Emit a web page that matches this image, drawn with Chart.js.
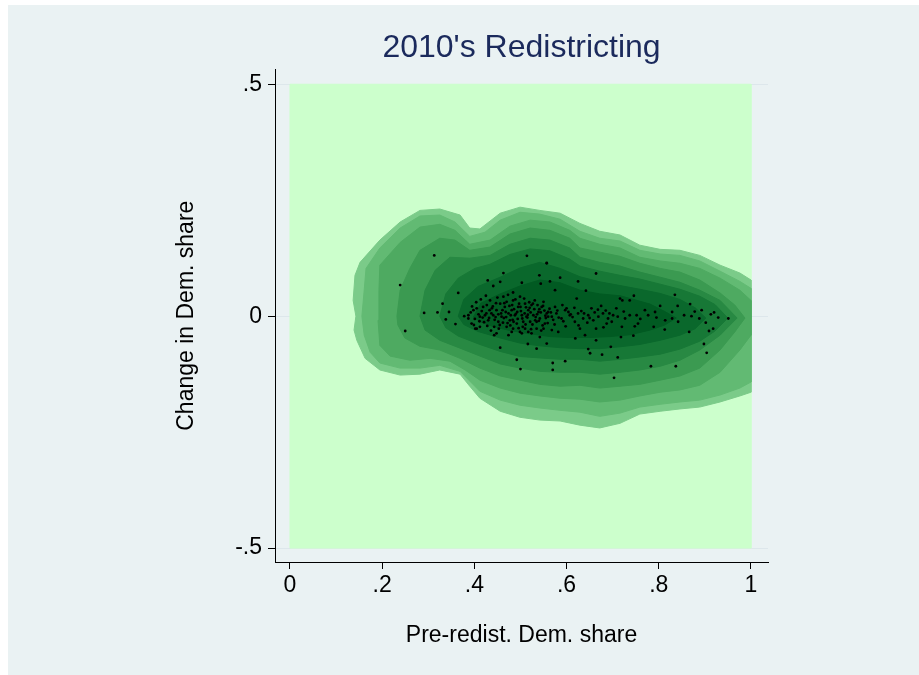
<!DOCTYPE html>
<html><head><meta charset="utf-8">
<script src="https://cdn.jsdelivr.net/npm/chart.js@4.4.1/dist/chart.umd.min.js"></script>
<style>
html,body{margin:0;padding:0;background:#ffffff;}
#wrap{position:absolute;left:8px;top:5px;width:911px;height:670px;background:#eaf2f3;}
canvas{display:block;}
</style></head><body>
<div id="wrap"><canvas id="c" width="911" height="670"></canvas></div>
<script>
// ---------- data ----------
const titleText = "2010's Redistricting";
const xTitle = "Pre-redist. Dem. share";
const yTitle = "Change in Dem. share";
const xTickValues = [0, 0.2, 0.4, 0.6, 0.8, 1];
const xTickLabels = ["0", ".2", ".4", ".6", ".8", "1"];
const yTickValues = [-0.5, 0, 0.5];
const yTickLabels = ["-.5", "0", ".5"];
const xRange = [-0.0325, 1.037];
const yRange = [-0.530, 0.532];

// density grid extent (lowest level)
const gridRegion = [[0,-0.5],[0,0.5],[1,0.5],[1,-0.5]];

// density contour levels (outer -> inner)
const level1 = [[0.143,0],[0.137,0.034],[0.141,0.088],[0.152,0.116],[0.195,0.164],[0.239,0.203],[0.282,0.228],[0.325,0.231],[0.369,0.218],[0.390,0.190],[0.412,0.188],[0.456,0.222],[0.499,0.235],[0.542,0.228],[0.586,0.222],[0.629,0.200],[0.672,0.183],[0.716,0.175],[0.759,0.153],[0.803,0.144],[0.846,0.142],[0.889,0.131],[0.933,0.110],[0.976,0.093],[1.0,0.078],[1.0,-0.164],[0.976,-0.172],[0.933,-0.185],[0.889,-0.196],[0.846,-0.200],[0.803,-0.205],[0.759,-0.211],[0.716,-0.231],[0.672,-0.241],[0.629,-0.235],[0.586,-0.226],[0.542,-0.224],[0.499,-0.218],[0.456,-0.205],[0.412,-0.177],[0.390,-0.151],[0.369,-0.125],[0.325,-0.116],[0.282,-0.125],[0.239,-0.127],[0.195,-0.116],[0.163,-0.091],[0.145,-0.052],[0.139,-0.030]];
const level2 = [[0.156,0],[0.161,0.056],[0.165,0.103],[0.195,0.147],[0.239,0.190],[0.282,0.216],[0.325,0.218],[0.358,0.203],[0.390,0.172],[0.423,0.181],[0.456,0.207],[0.499,0.224],[0.542,0.220],[0.586,0.209],[0.629,0.183],[0.672,0.168],[0.716,0.162],[0.759,0.142],[0.803,0.134],[0.846,0.131],[0.889,0.119],[0.933,0.097],[0.976,0.075],[1.0,0.060],[1.0,-0.142],[0.976,-0.155],[0.933,-0.170],[0.889,-0.181],[0.846,-0.185],[0.803,-0.190],[0.759,-0.196],[0.716,-0.209],[0.672,-0.216],[0.629,-0.207],[0.586,-0.203],[0.542,-0.198],[0.499,-0.192],[0.456,-0.181],[0.412,-0.162],[0.390,-0.140],[0.369,-0.119],[0.325,-0.106],[0.282,-0.112],[0.239,-0.112],[0.195,-0.101],[0.174,-0.078],[0.161,-0.041]];
const level3 = [[0.191,-0.009],[0.193,0.056],[0.195,0.110],[0.239,0.159],[0.282,0.192],[0.325,0.198],[0.358,0.185],[0.390,0.155],[0.434,0.164],[0.477,0.194],[0.521,0.207],[0.564,0.203],[0.607,0.185],[0.629,0.168],[0.672,0.155],[0.716,0.147],[0.759,0.127],[0.803,0.119],[0.846,0.114],[0.889,0.103],[0.933,0.082],[0.976,0.056],[1.0,0.034],[1.0,-0.041],[0.976,-0.073],[0.933,-0.121],[0.889,-0.149],[0.846,-0.159],[0.803,-0.164],[0.759,-0.172],[0.716,-0.181],[0.672,-0.185],[0.629,-0.179],[0.586,-0.177],[0.542,-0.172],[0.499,-0.166],[0.456,-0.155],[0.412,-0.138],[0.380,-0.116],[0.347,-0.097],[0.304,-0.091],[0.260,-0.095],[0.217,-0.086],[0.195,-0.063]];
const level4 = [[0.232,0],[0.239,0.056],[0.260,0.103],[0.282,0.142],[0.325,0.168],[0.358,0.164],[0.390,0.142],[0.434,0.149],[0.477,0.177],[0.521,0.190],[0.564,0.185],[0.607,0.168],[0.629,0.147],[0.672,0.138],[0.716,0.129],[0.759,0.114],[0.803,0.103],[0.846,0.095],[0.889,0.078],[0.933,0.050],[0.965,0.024],[0.987,-0.004],[0.965,-0.034],[0.933,-0.073],[0.889,-0.112],[0.846,-0.129],[0.803,-0.138],[0.759,-0.147],[0.716,-0.151],[0.672,-0.155],[0.629,-0.149],[0.586,-0.151],[0.542,-0.147],[0.499,-0.138],[0.456,-0.129],[0.412,-0.112],[0.369,-0.091],[0.325,-0.073],[0.282,-0.065],[0.249,-0.047],[0.234,-0.019]];
const level5 = [[0.282,0],[0.293,0.056],[0.315,0.099],[0.347,0.127],[0.390,0.125],[0.434,0.131],[0.477,0.155],[0.521,0.168],[0.564,0.164],[0.607,0.147],[0.629,0.127],[0.672,0.116],[0.716,0.108],[0.759,0.095],[0.803,0.084],[0.846,0.073],[0.889,0.056],[0.933,0.034],[0.970,-0.004],[0.933,-0.041],[0.889,-0.073],[0.846,-0.095],[0.803,-0.108],[0.759,-0.116],[0.716,-0.121],[0.672,-0.125],[0.629,-0.121],[0.586,-0.121],[0.542,-0.119],[0.499,-0.112],[0.456,-0.103],[0.412,-0.086],[0.369,-0.069],[0.325,-0.052],[0.293,-0.030]];
const level6 = [[0.325,0],[0.338,0.048],[0.365,0.082],[0.401,0.103],[0.434,0.112],[0.477,0.133],[0.521,0.145],[0.564,0.141],[0.607,0.123],[0.629,0.108],[0.672,0.097],[0.716,0.088],[0.759,0.080],[0.803,0.069],[0.846,0.058],[0.889,0.043],[0.922,0.025],[0.950,-0.004],[0.922,-0.032],[0.889,-0.054],[0.846,-0.071],[0.803,-0.082],[0.759,-0.088],[0.716,-0.093],[0.672,-0.097],[0.629,-0.093],[0.586,-0.093],[0.542,-0.090],[0.499,-0.087],[0.456,-0.076],[0.412,-0.061],[0.365,-0.043],[0.338,-0.025]];
const level7 = [[0.365,0],[0.377,0.036],[0.408,0.064],[0.456,0.084],[0.499,0.104],[0.542,0.116],[0.586,0.103],[0.629,0.085],[0.672,0.074],[0.716,0.066],[0.759,0.058],[0.803,0.049],[0.846,0.036],[0.879,0.018],[0.902,-0.004],[0.879,-0.027],[0.846,-0.041],[0.803,-0.052],[0.759,-0.061],[0.716,-0.066],[0.672,-0.070],[0.629,-0.070],[0.586,-0.068],[0.542,-0.064],[0.499,-0.058],[0.456,-0.047],[0.408,-0.033],[0.377,-0.018]];
const level8 = [[0.398,-0.002],[0.414,0.028],[0.456,0.048],[0.499,0.065],[0.542,0.078],[0.586,0.072],[0.629,0.056],[0.672,0.048],[0.716,0.044],[0.742,0.037],[0.781,0.026],[0.813,0.010],[0.838,-0.004],[0.813,-0.019],[0.781,-0.030],[0.738,-0.040],[0.694,-0.044],[0.651,-0.046],[0.607,-0.046],[0.564,-0.044],[0.521,-0.038],[0.477,-0.031],[0.440,-0.022],[0.414,-0.013]];
const levelColors = ['#ccffcc','#7bcb89','#62ba73','#4eaa61','#3b9a51','#288943','#177836','#0a682c','#015a22'];

// observed districts (x = pre-redistricting Dem. share, y = change)
const districts = [
[0.313,0.131],[0.239,0.067],[0.291,0.007],[0.250,-0.032],[0.320,0.008],[0.365,0.050],[0.331,0.027],[0.345,0.009],[0.338,-0.007],[0.359,-0.017],
[0.514,0.130],[0.557,0.114],[0.463,0.093],[0.429,0.077],[0.456,0.074],[0.503,0.072],[0.541,0.088],[0.544,0.070],[0.441,0.065],[0.484,0.051],
[0.456,-0.068],[0.492,-0.094],[0.500,-0.114],[0.516,-0.060],[0.535,-0.070],[0.443,-0.041],[0.402,-0.027],
[0.387,0.002],[0.398,0.013],[0.405,0.017],[0.387,-0.005],[0.412,-0.001],[0.423,0.002],[0.427,0.024],[0.434,0.034],[0.437,0.006],[0.441,0.002],
[0.448,0.013],[0.456,0.027],[0.459,-0.001],[0.463,0.042],[0.466,0.020],[0.470,0.031],[0.474,0.006],[0.477,-0.009],[0.481,0.013],[0.484,0.034],
[0.488,0.002],[0.492,-0.016],[0.495,0.020],[0.499,0.042],[0.503,0.002],[0.505,-0.023],[0.510,0.027],[0.513,-0.001],[0.517,0.013],[0.521,-0.012],
[0.524,0.024],[0.528,0.002],[0.531,0.034],[0.535,-0.027],[0.539,0.009],[0.542,-0.005],[0.546,0.020],[0.550,0.031],[0.553,-0.016],[0.557,0.006],
[0.560,-0.001],[0.405,-0.027],[0.412,-0.023],[0.443,-0.023],[0.448,-0.037],[0.474,-0.041],[0.481,-0.034],[0.499,-0.034],[0.503,-0.037],[0.517,-0.034],
[0.524,-0.037],[0.542,-0.045],[0.557,-0.059],[0.419,0.020],[0.430,-0.009],[0.452,-0.012],[0.470,-0.023],[0.484,-0.027],[0.510,-0.027],[0.535,-0.012],
[0.550,-0.027],[0.378,0.000],[0.394,-0.016],
[0.664,0.092],[0.625,0.075],[0.642,0.055],[0.557,0.115],[0.564,0.075],[0.586,0.083],[0.746,0.044],[0.721,0.034],[0.835,0.046],[0.868,0.026],
[0.841,0.022],[0.893,0.013],[0.913,0.004],[0.929,-0.003],[0.951,-0.005],[0.909,-0.032],[0.918,-0.027],[0.866,-0.034],[0.898,-0.060],[0.904,-0.079],
[0.837,-0.108],[0.783,-0.108],[0.703,-0.133],[0.711,-0.089],[0.677,-0.083],[0.651,-0.080],[0.647,-0.071],[0.696,-0.066],[0.597,-0.097],[0.570,-0.101],
[0.570,-0.116],[0.664,-0.052],[0.640,-0.041],[0.619,-0.048],[0.745,-0.042],[0.718,-0.045],[0.789,-0.023],[0.813,-0.029],[0.855,0.002],[0.871,0.000],
[0.888,-0.005],[0.803,0.022],[0.792,0.009],[0.770,0.013],[0.777,0.002],[0.752,0.002],[0.737,0.002],[0.727,-0.005],[0.711,-0.001],[0.701,0.002],
[0.690,-0.005],[0.679,0.006],[0.669,-0.001],[0.658,-0.009],[0.647,0.002],[0.636,-0.005],[0.625,0.006],[0.618,-0.012],[0.607,0.002],[0.597,0.013],
[0.589,-0.005],[0.578,0.006],[0.568,-0.001],[0.560,0.009],[0.575,0.020],[0.600,0.017],[0.654,0.017],[0.675,0.022],[0.708,0.017],[0.687,-0.016],
[0.720,-0.023],[0.755,-0.016],[0.814,-0.009],[0.829,-0.005],[0.568,-0.030],[0.582,-0.034],[0.629,-0.027],[0.664,-0.027],[0.680,-0.024],[0.748,-0.022],
[0.622,0.038],[0.575,0.056],[0.716,0.038],[0.737,0.034],[0.829,0.009],
[0.392,0.008],[0.401,-0.006],[0.409,0.004],[0.416,0.011],[0.421,-0.013],[0.426,0.006],[0.432,-0.004],[0.438,0.017],[0.444,-0.008],[0.447,0.028],
[0.452,0.004],[0.455,-0.019],[0.461,0.013],[0.464,-0.004],[0.468,0.009],[0.472,-0.015],[0.476,0.022],[0.479,0.002],[0.483,-0.008],[0.486,0.015],
[0.490,0.005],[0.494,-0.006],[0.497,0.027],[0.501,0.011],[0.506,-0.012],[0.509,0.006],[0.512,0.019],[0.515,-0.003],[0.519,0.030],[0.522,0.008],
[0.526,-0.018],[0.530,0.015],[0.533,-0.002],[0.537,0.024],[0.540,-0.010],[0.544,0.008],[0.548,-0.020],[0.552,0.012],[0.555,-0.004],[0.563,0.016],
[0.571,-0.008],[0.580,0.012],[0.593,-0.011],[0.604,0.009],[0.613,-0.002],[0.632,0.011],[0.645,-0.014],[0.661,0.008],[0.685,0.012],[0.698,-0.012],
[0.395,0.021],[0.399,-0.019],[0.404,0.030],[0.411,-0.011],[0.414,0.036],[0.418,-0.003],[0.425,0.044],[0.428,-0.021],[0.433,0.013],[0.436,-0.031],
[0.440,0.021],[0.446,-0.002],[0.450,0.040],[0.453,-0.027],[0.458,0.006],[0.462,-0.014],[0.465,0.028],[0.469,-0.002],[0.473,0.046],[0.478,-0.020],
[0.482,0.024],[0.485,-0.012],[0.489,0.036],[0.493,0.009],[0.496,-0.026],[0.500,0.020],[0.504,-0.005],[0.508,0.038],[0.511,-0.018],[0.516,0.003],
[0.520,0.018],[0.523,-0.028],[0.527,0.027],[0.532,-0.009],[0.536,0.004],[0.541,0.015],[0.545,-0.031],[0.549,0.022],[0.554,0.001],[0.559,-0.015],
[0.566,0.008],[0.574,-0.018],[0.583,-0.003],[0.591,0.024],[0.598,-0.022],[0.609,0.004],[0.617,0.018],[0.626,-0.020],[0.638,0.006],[0.650,-0.004],
[0.668,0.014],[0.693,0.006],[0.724,0.010],[0.760,-0.006],[0.795,-0.003],[0.842,-0.012],[0.878,0.010],[0.902,-0.014],[0.920,0.008]
];

// ---------- chart ----------
const FONT = '"Liberation Sans", Arial, Helvetica, sans-serif';
const toXY = pts => pts.concat([pts[0]]).map(p => ({x: p[0], y: p[1]}));
const regions = [gridRegion, level1, level2, level3, level4, level5, level6, level7, level8];

const datasets = [{
  type: 'scatter',
  data: districts.map(p => ({x: p[0], y: p[1]})),
  pointRadius: 1.4,
  pointBorderWidth: 0,
  pointBackgroundColor: '#000000',
  pointBorderColor: '#000000',
  order: 0
}];
regions.forEach((reg, i) => {
  datasets.push({
    type: 'line',
    data: toXY(reg),
    showLine: true,
    fill: 'shape',
    backgroundColor: levelColors[i],
    borderColor: levelColors[i],
    borderWidth: 1,
    pointRadius: 0,
    tension: 0,
    order: regions.length - i
  });
});

new Chart(document.getElementById('c').getContext('2d'), {
  type: 'scatter',
  data: {datasets},
  options: {
    responsive: false,
    animation: false,
    devicePixelRatio: 1,
    layout: {padding: {left: 150, right: 151, top: 10, bottom: 13}},
    plugins: {
      legend: {display: false},
      tooltip: {enabled: false},
      title: {
        display: true, text: titleText, fullSize: false, color: '#1b2a5c',
        font: {family: FONT, size: 32, weight: 'normal'},
        padding: {top: 14, bottom: 2}
      }
    },
    scales: {
      x: {
        type: 'linear', min: xRange[0], max: xRange[1],
        afterFit(s) { s.height = 100; },
        afterBuildTicks(s) { s.ticks = xTickValues.map(v => ({value: v})); },
        ticks: {
          callback: (v, i) => xTickLabels[i], color: '#000000',
          font: {family: FONT, size: 23}, padding: 3, maxRotation: 0, autoSkip: false
        },
        grid: {drawOnChartArea: false, drawTicks: true, tickLength: 7, tickColor: '#000000'},
        border: {display: true, color: '#000000', width: 1},
        title: {display: true, text: xTitle, color: '#000000', font: {family: FONT, size: 23}, padding: {top: 0, bottom: 13}}
      },
      y: {
        type: 'linear', min: yRange[0], max: yRange[1],
        afterFit(s) { s.width = 117; },
        afterBuildTicks(s) { s.ticks = yTickValues.map(v => ({value: v})); },
        ticks: {
          callback: (v, i) => yTickLabels[i], color: '#000000',
          font: {family: FONT, size: 23}, padding: 6, autoSkip: false
        },
        grid: {color: '#dde7eb', lineWidth: 1, drawTicks: true, tickLength: 7, tickColor: '#000000'},
        border: {display: true, color: '#000000', width: 1},
        title: {display: true, text: yTitle, color: '#000000', font: {family: FONT, size: 23}, padding: {top: 15, bottom: 0}}
      }
    }
  }
});
</script>
</body></html>
